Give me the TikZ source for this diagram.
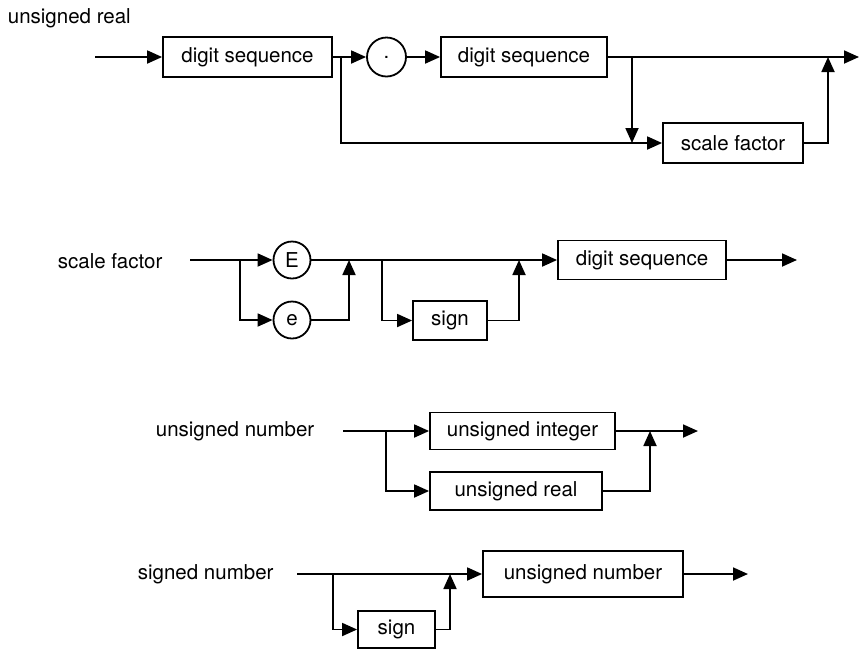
\documentclass[tikz,border=0pt]{standalone}
\usepackage{fontspec}
\setmainfont{TeX Gyre Heros}
\usetikzlibrary{arrows.meta}
\begin{document}
\begin{tikzpicture}[x=1pt,y=-1pt,
  line width=1.8pt,
  every node/.style={font=\fontsize{20.5}{24}\selectfont, inner sep=0pt},
  box/.style={draw, rectangle, line width=1.8pt},
  term/.style={draw, circle, line width=1.8pt},
  flow/.style={-{Triangle[length=15pt,width=13pt]}},
  title/.style={anchor=west}]
\useasboundingbox (0,0) rectangle (860,649);

% ---------- unsigned real ----------
\node[title] (tR) at (7,18) {unsigned real};
\coordinate (rS) at (95,57);
\node[box, minimum width=169pt, minimum height=40pt] (rD1) at (247.5,57) {digit sequence};
\coordinate (rJ1) at (341,57);
\node[term, minimum size=39pt] (rDot) at (386.5,57) {.};
\node[box, minimum width=166pt, minimum height=40pt] (rD2) at (524,57) {digit sequence};
\coordinate (rJ2) at (632,57);
\coordinate (rJ3) at (828,57);
\coordinate (rE) at (859,57);
\coordinate (rB2) at (632,143);
\node[box, minimum width=140pt, minimum height=40pt] (rSF) at (733,143) {scale factor};

\draw[flow] (rS) -- (rD1.west);
\draw[flow] (rD1.east) -- (rDot.west);
\draw[flow] (rDot.east) -- (rD2.west);
\draw[flow] (rD2.east) -- (rE);
\draw[flow] (rJ1) |- (rSF.west);
\draw[flow] (rJ2) -- (rB2);
\draw[flow] (rSF.east) -| (rJ3);

% ---------- scale factor ----------
\node[title] (tS) at (57,261) {scale factor};
\coordinate (sS) at (190,260);
\coordinate (sK1) at (240,260);
\node[term, minimum size=37pt] (sE) at (292,260) {E};
\node[term, minimum size=37pt] (se) at (292,320) {e};
\coordinate (sK2) at (349,260);
\coordinate (sK3) at (382,260);
\node[box, minimum width=74pt, minimum height=39pt] (sSign) at (450,320.5) {sign};
\coordinate (sK4) at (519,260);
\node[box, minimum width=168pt, minimum height=39pt] (sD) at (642,260) {digit sequence};
\coordinate (sEnd) at (797,260);

\draw[flow] (sS) -- (sE.west);
\draw[flow] (sK1) |- (se.west);
\draw[flow] (sE.east) -- (sD.west);
\draw[flow] (se.east) -| (sK2);
\draw[flow] (sK3) |- (sSign.west);
\draw[flow] (sSign.east) -| (sK4);
\draw[flow] (sD.east) -- (sEnd);

% ---------- unsigned number ----------
\node[title] (tN) at (155,431) {unsigned number};
\coordinate (nS) at (343,431);
\coordinate (nK1) at (386,431);
\node[box, minimum width=185pt, minimum height=37pt] (nInt) at (522.5,431) {unsigned integer};
\node[box, minimum width=172pt, minimum height=38pt] (nReal) at (516,491) {unsigned real};
\coordinate (nK2) at (650,431);
\coordinate (nEnd) at (698,431);

\draw[flow] (nS) -- (nInt.west);
\draw[flow] (nK1) |- (nReal.west);
\draw[flow] (nInt.east) -- (nEnd);
\draw[flow] (nReal.east) -| (nK2);

% ---------- signed number ----------
\node[title] (tG) at (137,574) {signed number};
\coordinate (gS) at (297,574);
\coordinate (gK1) at (333,574);
\node[box, minimum width=77pt, minimum height=37pt] (gSign) at (396.5,629.5) {sign};
\coordinate (gK2) at (450,574);
\node[box, minimum width=200pt, minimum height=46pt] (gU) at (583,574) {unsigned number};
\coordinate (gEnd) at (748,574);

\draw[flow] (gS) -- (gU.west);
\draw[flow] (gK1) |- (gSign.west);
\draw[flow] (gSign.east) -| (gK2);
\draw[flow] (gU.east) -- (gEnd);
\end{tikzpicture}
\end{document}
